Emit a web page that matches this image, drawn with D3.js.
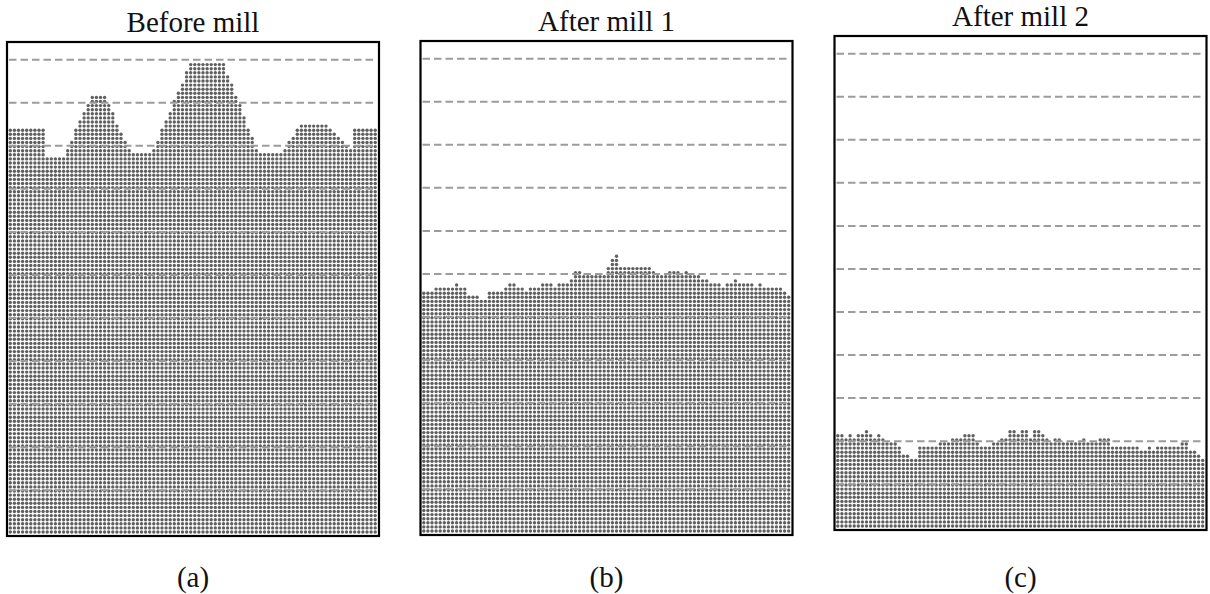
<!DOCTYPE html>
<html>
<head>
<meta charset="utf-8">
<script src="https://cdn.jsdelivr.net/npm/d3@7"></script>
<style>
  body { margin: 0; background: #fff; }
  svg { display: block; }
  text { font-family: "Liberation Serif", "DejaVu Serif", serif; fill: #111; }
</style>
</head>
<body>
<div id="chart"></div>
<script>
/* panel titles and captions */
const titles = ['Before mill', 'After mill 1', 'After mill 2'];
const captions = ['(a)', '(b)', '(c)'];

/* number of stacked dots in each column, left to right */
const heightsBefore = [
  99, 99, 99, 99, 99, 99, 99, 99, 99, 92, 92, 92, 92, 92,
  94, 96, 99, 101, 103, 105, 107, 107, 107, 107, 105, 103, 100, 98, 96, 94,
  93, 93, 93, 93, 93,
  94, 96, 99, 101, 103, 106, 108, 110, 113, 115, 115, 115, 115, 115, 115, 115, 115, 115,
  112, 110, 107, 105, 102, 99, 97, 94,
  93, 93, 93, 93, 93, 93,
  94, 96, 97, 99, 100, 100, 100, 100, 100, 100, 100, 99, 98, 97, 96, 95, 94,
  99, 99, 99, 99, 99, 99
];

const heightsMill1 = [
  59, 59, 59, 60, 60, 60, 60, 60, 61, 60, 60, 58, 58, 58, 57, 57,
  59, 59, 59, 59, 60, 61, 61, 60, 60, 59, 60, 60, 60, 61, 61, 61, 60,
  61, 61, 61, 62, 64, 64, 63, 63, 63, 63, 63, 63, 65, 67, 68,
  65, 65, 65, 65, 65, 65, 65, 65, 64, 63, 63, 63, 64, 64, 64, 63, 64,
  63, 63, 63, 62, 62, 61, 61, 61, 60, 61, 61, 62, 61, 61, 61, 61,
  60, 61, 60, 60, 60, 60, 60, 59, 58
];

const heightsMill2 = [
  23, 23, 22, 23, 22, 23, 23, 24, 23, 22, 23, 22, 21, 21, 21, 20,
  18, 18, 17, 17, 20, 20, 20, 20, 20, 21, 21, 21, 22, 22, 22, 23, 23, 23,
  21, 20, 20, 20, 21, 21, 22, 22, 24, 24, 23, 24, 24, 22, 24, 24, 23, 22, 21, 22, 22,
  21, 21, 21, 21, 21, 22, 21, 21, 21, 22, 22, 22,
  20, 20, 20, 20, 20, 20, 20, 19, 19, 20, 19, 20, 20, 20, 20, 20, 20,
  21, 21, 19, 19, 18, 17
];

/* dashed reference levels, in dot rows from the bottom */
const guideLevels = [115.2, 104.7, 94.2, 83.7, 73.2, 62.7, 52.2, 41.7, 31.2, 20.7, 10.2];

const WIDTH = 1210;
const HEIGHT = 594;
const PANEL_W = 372;
const PANEL_H = 494;
const STEP = 4.1;

const panels = [
  {title: titles[0], caption: captions[0], heights: heightsBefore, left: 7, top: 42},
  {title: titles[1], caption: captions[1], heights: heightsMill1, left: 420.5, top: 41},
  {title: titles[2], caption: captions[2], heights: heightsMill2, left: 834.5, top: 36}
];

const svg = d3.select('#chart').append('svg')
  .attr('width', WIDTH)
  .attr('height', HEIGHT);

const drawPanel = (p) => {
  const g = svg.append('g')
    .attr('transform', 'translate(' + p.left + ',' + p.top + ')');

  const n = p.heights.length;
  // column index -> x, dot row -> y
  const x = d3.scaleLinear().domain([0, n - 1]).range([3.3, 3.3 + (n - 1) * STEP]);
  const y = d3.scaleLinear().domain([0, 120]).range([490, 490 - 120 * STEP]);

  const cells = p.heights.flatMap((h, i) => d3.range(h).map(r => ({i: i, r: r})));

  g.append('g').selectAll('circle')
    .data(cells)
    .enter()
    .append('circle')
    .attr('cx', d => x(d.i))
    .attr('cy', d => y(d.r))
    .attr('r', 1.7)
    .attr('fill', '#606060');

  // dashed guides sit on top of the dots
  g.append('g').selectAll('line')
    .data(guideLevels)
    .enter()
    .append('line')
    .attr('x1', 2)
    .attr('x2', PANEL_W - 2)
    .attr('y1', d => y(d))
    .attr('y2', d => y(d))
    .attr('stroke', '#9c9c9c')
    .attr('stroke-width', 2)
    .attr('stroke-dasharray', '7.5,4');

  g.append('rect')
    .attr('x', 0)
    .attr('y', 0)
    .attr('width', PANEL_W)
    .attr('height', PANEL_H)
    .attr('fill', 'none')
    .attr('stroke', '#000')
    .attr('stroke-width', 2.2);

  g.append('text')
    .attr('x', PANEL_W / 2)
    .attr('y', -10)
    .attr('text-anchor', 'middle')
    .attr('font-size', '29px')
    .text(p.title);

  g.append('text')
    .attr('x', PANEL_W / 2)
    .attr('y', 587 - p.top)
    .attr('text-anchor', 'middle')
    .attr('font-size', '29px')
    .text(p.caption);
};

panels.forEach(drawPanel);
</script>
</body>
</html>
